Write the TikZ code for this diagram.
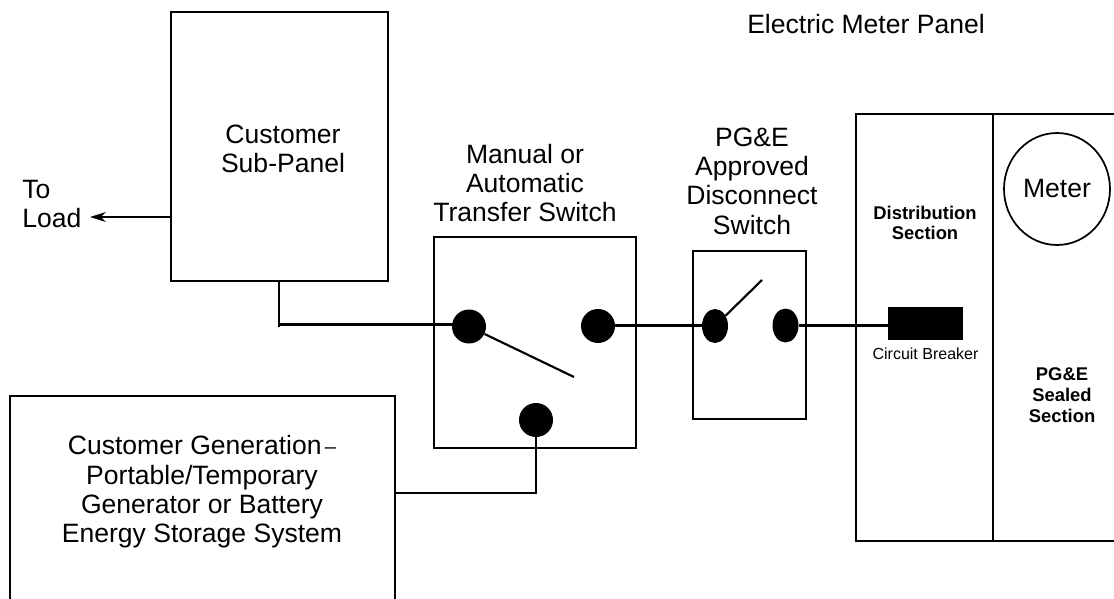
\documentclass[tikz,border=0pt]{standalone}
\usepackage{fontspec}
\setmainfont{Liberation Sans}
\usetikzlibrary{arrows.meta,positioning,shapes.geometric}

\begin{document}
\begin{tikzpicture}[
  x=0.75pt, y=-0.75pt,
  wire/.style={line width=1.6pt},
  panelbox/.style={draw, line width=1.6pt, anchor=north west, inner sep=0pt, outer sep=0pt},
  label/.style={align=center, font=\fontsize{19.9}{22}\selectfont, inner sep=0pt},
  smalllabel/.style={align=center, font=\bfseries\fontsize{13.8}{15.5}\selectfont, inner sep=0pt},
  dot/.style={circle, fill=black, minimum size=25.5pt, inner sep=0pt},
  contact/.style={ellipse, fill=black, minimum width=19.5pt, minimum height=25.5pt, inner sep=0pt},
  arr/.style={-{Stealth[length=12pt,width=7.5pt,inset=4pt]}, line width=0.9pt}
]
\useasboundingbox (0,0) rectangle (1114,599);
% boxes
\node[panelbox, minimum width=162.75pt, minimum height=201.75pt] (subpanel) at (171,12) {};
\node[panelbox, minimum width=151.5pt, minimum height=158.25pt] (transfer) at (434,237) {};
\node[panelbox, minimum width=85pt, minimum height=126pt] (disconnect) at (693,251) {};
\node[panelbox, minimum width=288.75pt, minimum height=180pt] (generation) at (10,396) {};
\node[panelbox, minimum width=204pt, minimum height=320.25pt] (meterpanel) at (856,114) {};
\coordinate (divtop) at (993,114);
\coordinate (divbot) at (993,541);
\draw[wire] (divtop) -- (divbot);
% contacts
\node[dot] (tsa) at (469,326.5) {};
\node[dot] (tsb) at (598,326) {};
\node[dot] (tsc) at (536,420) {};
\node[contact] (dsa) at (715,326) {};
\node[contact] (dsb) at (785.5,325.5) {};
\node[fill=black, minimum width=56.25pt, minimum height=25pt, inner sep=0pt] (breaker) at (925.5,323.5) {};
\node[ellipse, draw, line width=1.3pt, minimum width=79.5pt, minimum height=84pt, inner sep=0pt, font=\fontsize{19.9}{22}\selectfont] (meter) at (1057,189) {Meter};
% free ends
\coordinate (subdrop) at (279,327);
\coordinate (subjoin) at (279,324.5);
\coordinate (gencorner) at (536,493);
\coordinate (tsarm) at (574,377);
\coordinate (dsarm) at (762,280);
\coordinate (subout) at (171,217);
\coordinate (loadend) at (90,217);
% wires
\draw[wire] (subdrop |- subpanel.south) -- (subdrop);
\draw[wire] (subjoin) -- (subjoin -| tsa);
\draw[wire] (gencorner -| generation.east) -- (gencorner) -- (tsc);
\draw[wire] (tsb |- dsb) -- (dsa |- dsb);
\draw[wire] (dsb) -- (dsb -| breaker.west);
\draw[wire] (tsa) -- (tsarm);
\draw[wire] (dsa) -- (dsarm);
\draw[arr] (subout) -- (loadend);
% labels
\node[label] (titletext) at (866,24) {Electric Meter Panel};
\node[label] (subtext) at (283,149) {Customer\\Sub-Panel};
\node[label, align=left, anchor=west] (loadtext) at (22,204) {To\\Load};
\node[label] (transfertext) at (525,183) {Manual or\\Automatic\\Transfer Switch};
\node[label] (disctext) at (752,181) {PG\&E\\Approved\\Disconnect\\Switch};
\node[label] (gentext) at (202,492) {Customer Generation\raisebox{0.1ex}{\fontsize{15}{15}\selectfont\,--}\\Portable/Temporary\\Generator or Battery\\Energy Storage System};
\node[smalllabel] (disttext) at (925,223) {Distribution\\Section};
\node[smalllabel, font=\bfseries\fontsize{13.8}{15.75}\selectfont] (sealtext) at (1062,395) {PG\&E\\Sealed\\Section};
\node[align=center, inner sep=0pt, font=\fontsize{12}{14}\selectfont] (cbtext) at (925.5,354) {Circuit Breaker};
\end{tikzpicture}
\end{document}
